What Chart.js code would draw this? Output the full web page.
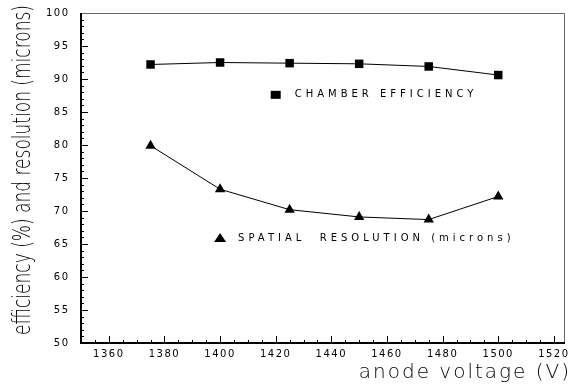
<!DOCTYPE html>
<html>
<head>
<meta charset="utf-8">
<script src="https://cdn.jsdelivr.net/npm/chart.js@4.4.1/dist/chart.umd.min.js"></script>
<style>
  html, body { margin: 0; padding: 0; background: #fff; }
  #wrap { width: 571px; height: 386px; }
</style>
</head>
<body>
<div id="wrap"><canvas id="myChart" width="571" height="386"></canvas></div>
<script>
// ---- data ----
const voltages = [1375, 1400, 1425, 1450, 1475, 1500];
const efficiency = [92.2, 92.5, 92.4, 92.3, 91.9, 90.6];
const resolution = [79.9, 73.3, 70.2, 69.1, 68.7, 72.2];

const xTicks = [1360, 1380, 1400, 1420, 1440, 1460, 1480, 1500, 1520];
const yTicks = [50, 55, 60, 65, 70, 75, 80, 85, 90, 95, 100];

// in-plot labels: marker position (data coords) + text
const effLabel = { x: 1420, y: 87.6, text: "CHAMBER EFFICIENCY" };
const resLabel = { x: 1400, y: 65.9, text: "SPATIAL  RESOLUTION (microns)" };

const xTitle = "anode voltage (V)";
const yTitle = "efficiency (%) and resolution (microns)";

const toPts = (ys) => voltages.map((v, i) => ({ x: v, y: ys[i] }));

// frame, inner ticks, y labels, in-plot labels and axis titles
const decorations = {
  id: "decorations",
  beforeDraw(chart) {
    chart.ctx.letterSpacing = "1.5px";
  },
  afterDraw(chart) {
    const { ctx, chartArea: a, scales } = chart;
    const x = scales.x, y = scales.y;
    ctx.save();
    ctx.strokeStyle = "#000";
    ctx.lineWidth = 1;

    // minor / major ticks pointing inward
    ctx.beginPath();
    for (let v = 1350; v <= 1524; v += 5) {
      const px = Math.round(x.getPixelForValue(v)) + 0.5;
      const len = v % 20 === 0 ? 7 : 3;
      ctx.moveTo(px, a.bottom);
      ctx.lineTo(px, a.bottom - len);
    }
    for (let v = 50; v <= 100; v += 1) {
      const py = Math.round(y.getPixelForValue(v)) + 0.5;
      const len = v % 5 === 0 ? 7 : 3;
      ctx.moveTo(a.left, py);
      ctx.lineTo(a.left + len, py);
    }
    ctx.stroke();

    // frame: thin grey top/right, heavier black left/bottom
    ctx.strokeStyle = "#666";
    ctx.beginPath();
    ctx.moveTo(a.left, a.top + 0.5);
    ctx.lineTo(a.right - 0.5, a.top + 0.5);
    ctx.lineTo(a.right - 0.5, a.bottom);
    ctx.stroke();
    ctx.strokeStyle = "#000";
    ctx.lineWidth = 2;
    ctx.beginPath();
    ctx.moveTo(a.left, a.top);
    ctx.lineTo(a.left, a.bottom);
    ctx.lineTo(a.right, a.bottom);
    ctx.stroke();

    // y tick labels
    ctx.fillStyle = "#000";
    ctx.font = "10px 'DejaVu Sans'";
    ctx.letterSpacing = "1.5px";
    ctx.textAlign = "right";
    ctx.textBaseline = "middle";
    yTicks.forEach((v) => ctx.fillText(String(v), a.left - 11.5, y.getPixelForValue(v)));

    // in-plot labels
    ctx.letterSpacing = "4px";
    ctx.textAlign = "left";
    const ex = x.getPixelForValue(effLabel.x), ey = y.getPixelForValue(effLabel.y);
    ctx.fillRect(ex - 5, ey - 4, 10, 8);
    ctx.fillText(effLabel.text, ex + 19, ey);
    const rx = x.getPixelForValue(resLabel.x), ry = y.getPixelForValue(resLabel.y);
    ctx.beginPath();
    ctx.moveTo(rx, ry - 5);
    ctx.lineTo(rx + 6, ry + 4);
    ctx.lineTo(rx - 6, ry + 4);
    ctx.closePath();
    ctx.fill();
    ctx.fillText(resLabel.text, rx + 18, ry);

    // axis titles
    ctx.font = "200 20px 'DejaVu Sans'";
    ctx.letterSpacing = "2px";
    ctx.textAlign = "right";
    ctx.textBaseline = "alphabetic";
    ctx.fillText(xTitle, 571, 378);

    ctx.letterSpacing = "0px";
    ctx.font = "200 24px 'DejaVu Sans'";
    const w = ctx.measureText(yTitle).width;
    ctx.translate(30, 5);
    ctx.rotate(-Math.PI / 2);
    ctx.scale(330 / w, 1);
    ctx.fillText(yTitle, 0, 0);
    ctx.restore();
    ctx.letterSpacing = "0px";
  }
};

document.addEventListener("DOMContentLoaded", () => {
  const ctx = document.getElementById("myChart");
  new Chart(ctx, {
    type: "scatter",
    data: {
      datasets: [
        {
          label: "CHAMBER EFFICIENCY",
          data: toPts(efficiency),
          showLine: true,
          borderColor: "#000",
          borderWidth: 1,
          backgroundColor: "#000",
          pointStyle: "rect",
          pointRadius: 6,
          pointBorderWidth: 0,
        },
        {
          label: "SPATIAL RESOLUTION (microns)",
          data: toPts(resolution),
          showLine: true,
          borderColor: "#000",
          borderWidth: 1,
          backgroundColor: "#000",
          pointStyle: "triangle",
          pointRadius: 6,
          pointBorderWidth: 0,
        },
      ],
    },
    options: {
      responsive: false,
      animation: false,
      layout: { padding: { top: 13, right: 2, left: 0, bottom: 0 } },
      plugins: { legend: { display: false }, tooltip: { enabled: false } },
      scales: {
        x: {
          type: "linear",
          min: 1350,
          max: 1524,
          afterBuildTicks: (s) => { s.ticks = xTicks.map((v) => ({ value: v })); },
          afterFit: (s) => { s.height = 43; s.paddingLeft = 0; s.paddingRight = 0; },
          grid: { display: false, drawTicks: false },
          border: { display: false },
          ticks: {
            color: "#000", padding: 5, maxRotation: 0,
            font: { family: "DejaVu Sans", size: 10 },
            callback: (v) => String(v),
          },
        },
        y: {
          min: 50,
          max: 100,
          afterBuildTicks: (s) => { s.ticks = yTicks.map((v) => ({ value: v })); },
          afterFit: (s) => { s.width = 81; s.paddingTop = 0; s.paddingBottom = 0; },
          grid: { display: false, drawTicks: false },
          border: { display: false },
          ticks: { display: false },
        },
      },
    },
    plugins: [decorations],
  });
});
</script>
</body>
</html>
